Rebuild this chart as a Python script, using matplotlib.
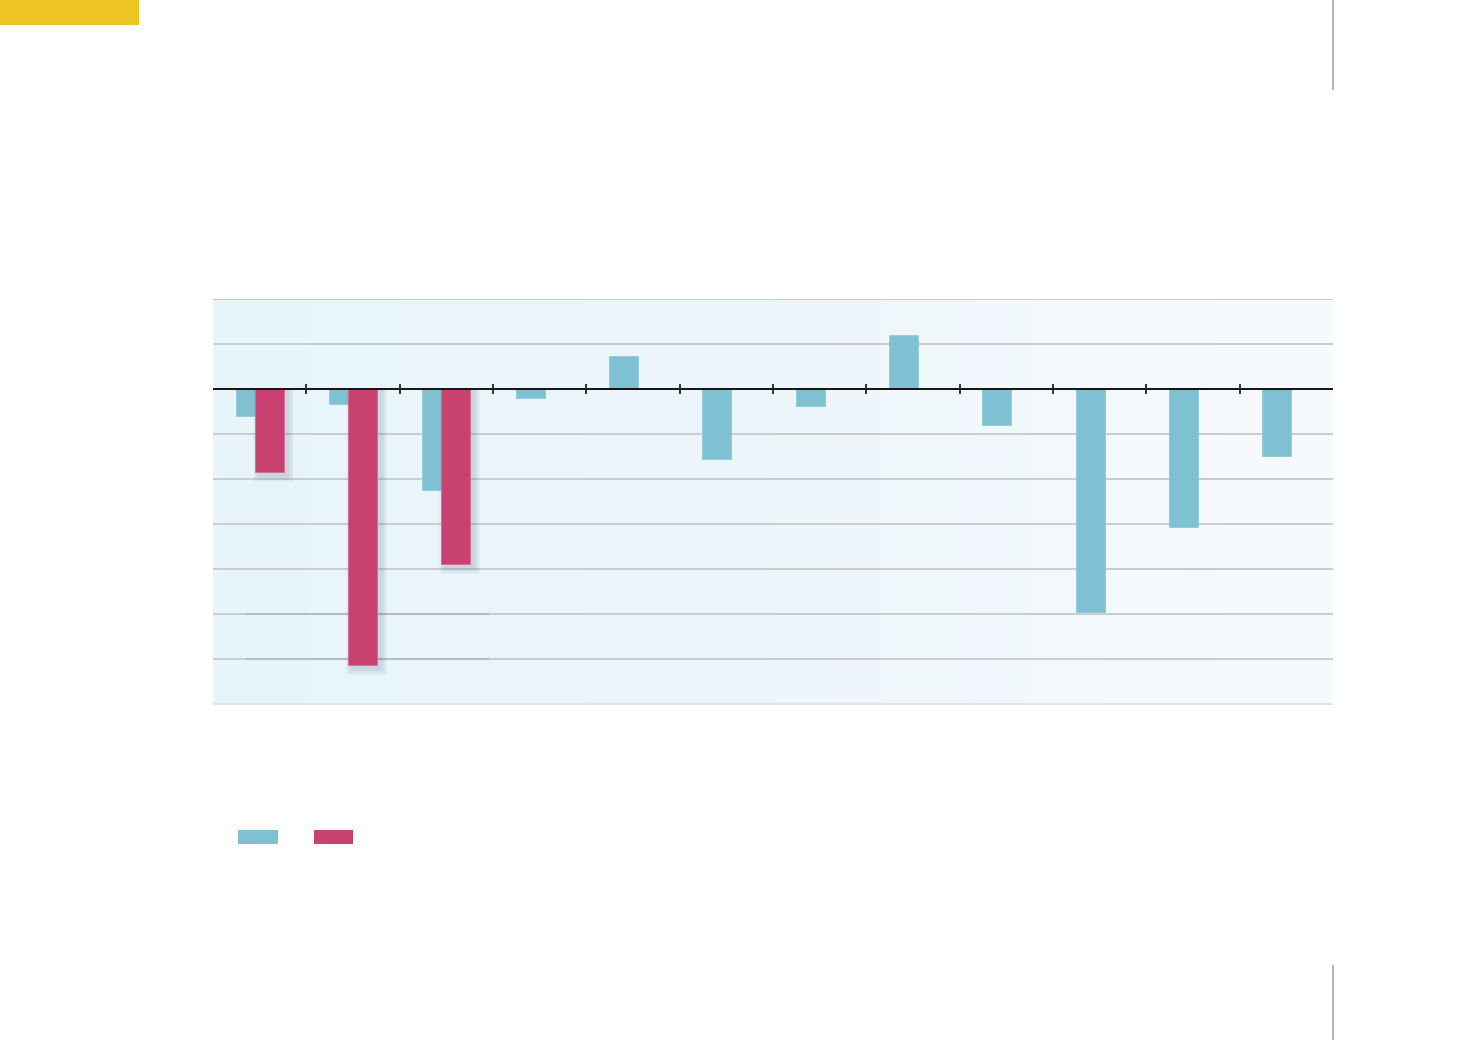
import numpy as np
import matplotlib
matplotlib.use("Agg")
import matplotlib.pyplot as plt
from matplotlib.patches import Rectangle
from matplotlib.colors import LinearSegmentedColormap

# ---- data (in grid units) ----
categories = list(range(1, 13))
series_a = [-0.6, -0.33, -2.24, -0.2, 0.73, -1.56, -0.38, 1.2, -0.8, -4.96, -3.07, -1.49]
series_b = [-1.84, -6.13, -3.89, None, None, None, None, None, None, None, None, None]
y_grid = [-6, -5, -4, -3, -2, -1, 1, 2]

BLUE = "#7fc1d3"
RED = "#c9416f"

W, H = 1471, 1040
fig = plt.figure(figsize=(W / 100, H / 100), dpi=100)
fig.patch.set_facecolor("white")

ax = fig.add_axes([213 / W, (H - 705) / H, 1120 / W, 406 / H])
n = len(categories)
YMIN, YMAX = -7.02, 2
ax.set_xlim(0, n)
ax.set_ylim(YMIN, YMAX)
px_x = n / 1120.0
px_y = (YMAX - YMIN) / 406.0

# gradient background
cmap = LinearSegmentedColormap.from_list("bg", ["#e7f5fc", "#edf6fb", "#f8fbfe"])
grad = np.linspace(0, 1, 256).reshape(1, -1)
ax.imshow(grad, extent=[0, n, YMIN, YMAX], aspect="auto", cmap=cmap, zorder=0)

# gridlines
for g in y_grid:
    ax.axhline(g, color="#c6c9cc", lw=1.3, zorder=1)
for g in [-5, -6]:
    ax.plot([34 * px_x, 275 * px_x], [g, g], color="#b8bbbf", lw=1.5, zorder=1.1)
ax.axhline(YMIN + px_y, color="#e0e4e7", lw=1.5, zorder=1)

x = np.arange(n) + 0.5
bw = 29 * px_x
off = 9.5 * px_x

ax.bar(x - off, series_a, width=bw, color=BLUE, edgecolor="#8ccbdc", linewidth=0.6, zorder=3)
xb = [xi + off for xi, v in zip(x, series_b) if v is not None]
vb = [v for v in series_b if v is not None]
bars = ax.bar(xb, vb, width=bw, color=RED, edgecolor="#d46a90", linewidth=0.6, zorder=4)

# soft shadow behind red bars (below the zero line only)
for b in bars:
    bx, by = b.get_x(), b.get_y()
    bwid, bh = b.get_width(), b.get_height()
    bottom = min(by, by + bh)
    for k in range(1, 7):
        pad = k
        sb = bottom - (4 + pad) * px_y
        ax.add_patch(Rectangle((bx + (4 - pad) * px_x, sb),
                               bwid + 2 * pad * px_x, -sb,
                               facecolor="#4e6580", edgecolor="none", alpha=0.035, zorder=3.5))

# zero line with category ticks
ax.axhline(0, color="#111111", lw=1.4, zorder=5)
ax.vlines(np.arange(1, n), -0.11, 0.11, color="#222222", lw=1.3, zorder=5)

ax.set_xticks([])
ax.set_yticks([])
for s in ax.spines.values():
    s.set_visible(False)

# decorations
fig.patches.append(Rectangle((0, (H - 25) / H), 139 / W, 25 / H, transform=fig.transFigure,
                             facecolor="#ecc424", edgecolor="none"))
fig.lines.append(plt.Line2D([1333 / W, 1333 / W], [1, (H - 89) / H], transform=fig.transFigure,
                            color="#b3b8bf", lw=1.5))
fig.lines.append(plt.Line2D([1333 / W, 1333 / W], [(H - 966) / H, 0], transform=fig.transFigure,
                            color="#b3b8bf", lw=1.5))

# legend patches
fig.patches.append(Rectangle((238 / W, (H - 844) / H), 40 / W, 14 / H, transform=fig.transFigure,
                             facecolor=BLUE, edgecolor="none"))
fig.patches.append(Rectangle((314 / W, (H - 844) / H), 39 / W, 14 / H, transform=fig.transFigure,
                             facecolor=RED, edgecolor="none"))

fig.savefig("out.png", dpi=100)
